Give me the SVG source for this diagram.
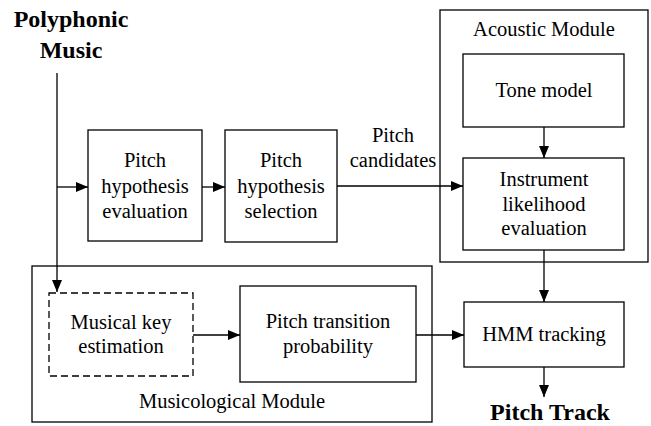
<svg xmlns="http://www.w3.org/2000/svg" width="651" height="426" viewBox="0 0 651 426">
<defs>
<marker id="ah" viewBox="0 0 12 10" refX="12" refY="5" markerWidth="12" markerHeight="10" markerUnits="userSpaceOnUse" orient="auto">
<path d="M0,0 L12,5 L0,10 Z" fill="#000"/>
</marker>
</defs>
<rect width="651" height="426" fill="#fff"/>
<g id="title-in">
<text x="71" y="27" font-family="Liberation Serif" font-size="24" font-weight="bold" text-anchor="middle">Polyphonic</text>
<text x="71" y="58" font-family="Liberation Serif" font-size="24" font-weight="bold" text-anchor="middle">Music</text>
</g>
<g id="acoustic-module">
<rect x="440" y="10" width="208" height="252" fill="none" stroke="#000" stroke-width="1.3"/>
<text x="544" y="36" font-family="Liberation Serif" font-size="20.5" text-anchor="middle">Acoustic Module</text>
</g>
<g id="musicological-module">
<rect x="32" y="266" width="400" height="156" fill="none" stroke="#000" stroke-width="1.3"/>
<text x="232" y="408" font-family="Liberation Serif" font-size="20.5" text-anchor="middle">Musicological Module</text>
</g>
<g id="pitch-eval">
<rect x="88" y="130" width="114" height="111" fill="none" stroke="#000" stroke-width="1.3"/>
<text x="145" y="167" font-family="Liberation Serif" font-size="20.5" text-anchor="middle">Pitch</text>
<text x="145" y="193" font-family="Liberation Serif" font-size="20.5" text-anchor="middle">hypothesis</text>
<text x="145" y="218" font-family="Liberation Serif" font-size="20.5" text-anchor="middle">evaluation</text>
</g>
<g id="pitch-sel">
<rect x="225" y="130" width="112" height="112" fill="none" stroke="#000" stroke-width="1.3"/>
<text x="281" y="167" font-family="Liberation Serif" font-size="20.5" text-anchor="middle">Pitch</text>
<text x="281" y="193" font-family="Liberation Serif" font-size="20.5" text-anchor="middle">hypothesis</text>
<text x="281" y="218" font-family="Liberation Serif" font-size="20.5" text-anchor="middle">selection</text>
</g>
<g id="tone-model">
<rect x="463" y="54" width="161" height="73" fill="none" stroke="#000" stroke-width="1.3"/>
<text x="544" y="97" font-family="Liberation Serif" font-size="20.5" text-anchor="middle">Tone model</text>
</g>
<g id="instrument">
<rect x="463" y="158" width="161" height="92" fill="none" stroke="#000" stroke-width="1.3"/>
<text x="544" y="186" font-family="Liberation Serif" font-size="20.5" text-anchor="middle">Instrument</text>
<text x="544" y="211" font-family="Liberation Serif" font-size="20.5" text-anchor="middle">likelihood</text>
<text x="544" y="235" font-family="Liberation Serif" font-size="20.5" text-anchor="middle">evaluation</text>
</g>
<g id="musical-key">
<rect x="49" y="293" width="144" height="83" fill="none" stroke="#000" stroke-width="1.3" stroke-dasharray="7,4"/>
<text x="121" y="329" font-family="Liberation Serif" font-size="20.5" text-anchor="middle">Musical key</text>
<text x="121" y="353" font-family="Liberation Serif" font-size="20.5" text-anchor="middle">estimation</text>
</g>
<g id="pitch-trans">
<rect x="240" y="286" width="176" height="96" fill="none" stroke="#000" stroke-width="1.3"/>
<text x="328" y="328" font-family="Liberation Serif" font-size="20.5" text-anchor="middle">Pitch transition</text>
<text x="328" y="353" font-family="Liberation Serif" font-size="20.5" text-anchor="middle">probability</text>
</g>
<g id="hmm">
<rect x="464" y="302" width="160" height="65" fill="none" stroke="#000" stroke-width="1.3"/>
<text x="544" y="341" font-family="Liberation Serif" font-size="20.5" text-anchor="middle">HMM tracking</text>
</g>
<g id="title-out">
<text x="550" y="420" font-family="Liberation Serif" font-size="24" font-weight="bold" text-anchor="middle">Pitch Track</text>
</g>
<g id="connectors" fill="none" stroke="#000" stroke-width="1.3">
<path d="M57,73 V292" marker-end="url(#ah)"/>
<path d="M57,187 H88" marker-end="url(#ah)"/>
<path d="M202,187 H225" marker-end="url(#ah)"/>
<path d="M337,186 H463" marker-end="url(#ah)"/>
<path d="M544,127 V158" marker-end="url(#ah)"/>
<path d="M544,250 V302" marker-end="url(#ah)"/>
<path d="M193,335 H240" marker-end="url(#ah)"/>
<path d="M416,335 H464" marker-end="url(#ah)"/>
<path d="M544,367 V397" marker-end="url(#ah)"/>
</g>
<text x="393" y="142" font-family="Liberation Serif" font-size="20.5" text-anchor="middle">Pitch</text>
<text x="393" y="167" font-family="Liberation Serif" font-size="20.5" text-anchor="middle">candidates</text>
</svg>
